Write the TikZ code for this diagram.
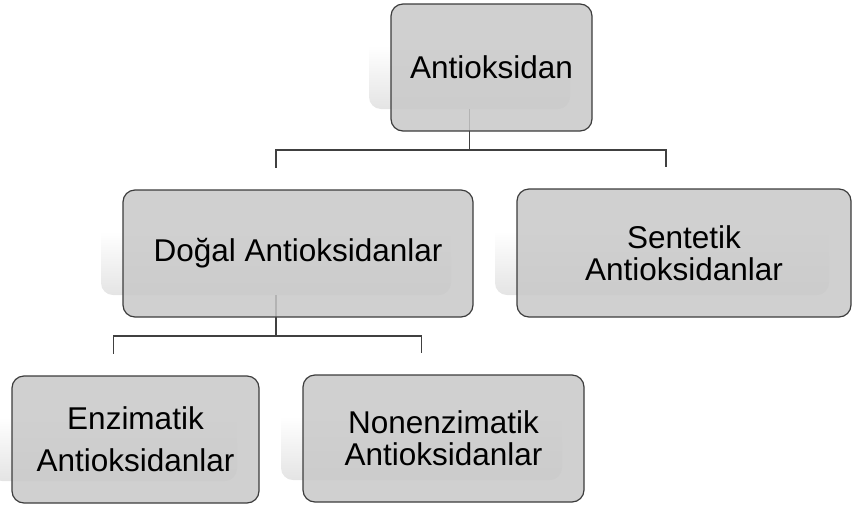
\documentclass[tikz,border=0pt]{standalone}
\usepackage{fontspec}
\setmainfont{Liberation Sans}
\definecolor{boxgray}{RGB}{200,200,200}
\definecolor{edgegray}{RGB}{60,60,60}
\definecolor{linegray}{RGB}{64,64,64}
\definecolor{shadegray}{RGB}{228,228,228}
\pgfdeclareverticalshading{fadeshade}{100bp}{color(0bp)=(shadegray); color(25bp)=(shadegray); color(50bp)=(white); color(100bp)=(white)}
\begin{document}
\begin{tikzpicture}[x=1pt,y=-1pt,
  mainbox/.style={draw=edgegray, line width=1.2pt, fill=boxgray, fill opacity=0.85,
    text opacity=1, rounded corners=12pt, inner sep=0pt, align=center,
    font=\fontsize{31.5}{32}\selectfont, text=black},
  shadebox/.style={rounded corners=12pt, inner sep=0pt, draw=none, shading=fadeshade},
  conn/.style={draw=linegray, line width=1.5pt}]
\useasboundingbox (0,0) rectangle (852,507);
% shadow boxes (offset up-left)
\node[shadebox, minimum width=201pt, minimum height=127pt] (s0) at (469.5,45.5) {};
\node[shadebox, minimum width=350pt, minimum height=127pt] (s1) at (276,231.5) {};
\node[shadebox, minimum width=334pt, minimum height=128pt] (s2) at (662,231) {};
\node[shadebox, minimum width=247pt, minimum height=127pt] (s3) at (113.5,417.5) {};
\node[shadebox, minimum width=281pt, minimum height=127pt] (s4) at (421.5,416.5) {};
% connector coordinates
\coordinate (h0) at (469.5,150);
\coordinate (h1) at (276,336);
% connectors
\draw[conn] (s0.south) -- (h0);
\draw[conn] (s1.north) -- (s1.north |- h0) -- (666,150) -- (666,167);
\draw[conn] (s1.south) -- (h1);
\draw[conn] (s3.north) -- (s3.north |- h1) -- (s4.north |- h1) -- (s4.north);
% main boxes
\node[mainbox, minimum width=201pt, minimum height=127pt] (a) at (491.5,67.5) {Antioksidan};
\node[mainbox, minimum width=350pt, minimum height=127pt] (b) at (298,253.5) {Doğal Antioksidanlar};
\node[mainbox, minimum width=334pt, minimum height=128pt] (c) at (684,253) {Sentetik\\Antioksidanlar};
\node[mainbox, minimum width=247pt, minimum height=127pt] (d) at (135.5,439.5) {Enzimatik\\[10pt]Antioksidanlar};
\node[mainbox, minimum width=281pt, minimum height=127pt] (e) at (443.5,438.5) {Nonenzimatik\\Antioksidanlar};
\end{tikzpicture}
\end{document}
